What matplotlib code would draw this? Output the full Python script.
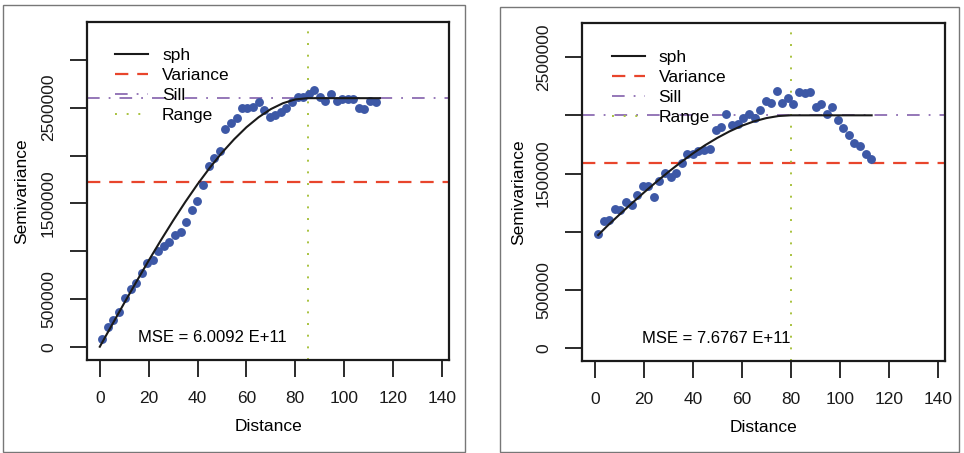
import matplotlib.pyplot as plt
from matplotlib.patches import Rectangle

plt.rcParams['font.family'] = ['Liberation Sans', 'DejaVu Sans']

# empirical semivariogram, left dataset
dist_a = [1.1, 3.3, 5.6, 7.9, 10.4, 12.7, 14.9, 17.2, 19.4, 21.7,
          24.0, 26.2, 28.5, 30.8, 33.1, 35.3, 37.7, 39.9, 42.1, 44.6,
          46.9, 49.1, 51.4, 53.7, 56.0, 58.2, 60.4, 62.7, 65.0, 67.3,
          69.7, 71.8, 74.2, 76.3, 78.7, 80.9, 83.0, 85.5, 87.7, 90.1,
          92.3, 94.6, 96.9, 99.1, 101.4, 103.7, 105.9, 108.2, 110.6, 112.9]
semi_a = [0.077, 0.21, 0.28, 0.367, 0.507, 0.608, 0.664, 0.769, 0.874, 0.902,
          0.997, 1.056, 1.091, 1.171, 1.199, 1.301, 1.434, 1.528, 1.689, 1.888,
          1.976, 2.052, 2.273, 2.336, 2.392, 2.500, 2.497, 2.507, 2.559, 2.476,
          2.402, 2.423, 2.455, 2.493, 2.563, 2.615, 2.612, 2.647, 2.689, 2.612,
          2.570, 2.640, 2.566, 2.594, 2.587, 2.587, 2.500, 2.490, 2.566, 2.559]
# fitted spherical model (sph), left
sph_dist_a = [0, 5, 10, 15, 20, 25, 30, 35, 40, 45, 50, 55, 60, 65, 70, 75, 80, 85, 114.6]
sph_semi_a = [0, 0.229, 0.457, 0.681, 0.901, 1.114, 1.319, 1.515, 1.700, 1.872,
              2.030, 2.171, 2.296, 2.401, 2.486, 2.548, 2.587, 2.600, 2.600]
variance_a = 1.72
sill_a = 2.605
range_a = 85.3
mse_a = 'MSE = 6.0092 E+11'

# empirical semivariogram, right dataset
dist_b = [1.4, 3.8, 6.0, 8.2, 10.5, 12.8, 15.1, 17.4, 19.6, 21.8,
          24.1, 26.4, 28.7, 31.0, 33.3, 35.5, 37.8, 40.1, 42.3, 44.6,
          46.9, 49.3, 51.6, 53.7, 56.1, 58.4, 60.7, 62.9, 65.2, 67.5,
          69.8, 72.0, 74.3, 76.6, 78.9, 81.1, 83.4, 85.7, 88.0, 90.2,
          92.4, 94.7, 97.0, 99.3, 101.4, 103.7, 105.9, 108.2, 110.5, 112.7]
semi_b = [0.979, 1.097, 1.103, 1.194, 1.183, 1.257, 1.226, 1.314, 1.395, 1.389,
          1.303, 1.440, 1.503, 1.469, 1.509, 1.589, 1.664, 1.670, 1.690, 1.704,
          1.715, 1.876, 1.899, 2.007, 1.919, 1.924, 1.979, 2.013, 1.976, 2.048,
          2.122, 2.105, 2.208, 2.105, 2.151, 2.099, 2.196, 2.188, 2.196, 2.070,
          2.096, 2.013, 2.068, 1.962, 1.890, 1.833, 1.761, 1.738, 1.670, 1.629]
sph_dist_b = [1.4, 5, 10, 15, 20, 25, 30, 35, 40, 45, 50, 55, 60, 65, 70, 75, 80, 113]
sph_semi_b = [0.972, 1.048, 1.146, 1.242, 1.336, 1.426, 1.513, 1.595, 1.672, 1.743,
              1.806, 1.862, 1.910, 1.948, 1.976, 1.994, 2.000, 2.000]
variance_b = 1.589
sill_b = 2.0
range_b = 80.1
mse_b = 'MSE = 7.6767 E+11'

SCALE = 1e6
POINT_COLOR = '#3d58a6'
VAR_COLOR = '#e8452c'
SILL_COLOR = '#8c6cb2'
RANGE_COLOR = '#a8c23e'


def draw_panel(ax, dist, semi, sph_d, sph_s, variance, sill, rng, mse, mse_xy,
               ylim, yticks, yticklabels, ylabel_x, leg_xy):
    ax.plot(dist, [v * SCALE for v in semi], 'o', color=POINT_COLOR,
            markersize=6.4, markeredgewidth=0, zorder=3)
    ax.plot(sph_d, [v * SCALE for v in sph_s], color='#1a1a1a', lw=1.5,
            label='sph', zorder=4)
    ax.axhline(variance * SCALE, color=VAR_COLOR, lw=1.6, dashes=(6, 4),
               label='Variance', zorder=2)
    ax.axhline(sill * SCALE, color=SILL_COLOR, lw=1.3, dashes=(7, 5, 1, 5),
               label='Sill', zorder=2)
    ax.axvline(rng, color=RANGE_COLOR, lw=1.4, dashes=(1, 5),
               label='Range', zorder=2)

    ax.text(mse_xy[0], mse_xy[1] * SCALE, mse, fontsize=12, va='center')

    ax.set_xlim(-5.1, 142.9)
    ax.set_ylim(ylim[0] * SCALE, ylim[1] * SCALE)
    ax.set_xticks(range(0, 141, 20))
    ax.set_yticks([t * SCALE for t in yticks])
    ax.set_yticklabels(yticklabels, rotation=90, va='center')
    ax.tick_params(direction='out', length=12.5, width=1.3, labelsize=12.5,
                   colors='#1a1a1a')
    ax.tick_params(axis='x', pad=10)
    ax.tick_params(axis='y', pad=10)
    for s in ax.spines.values():
        s.set_linewidth(1.6)
        s.set_color('#1a1a1a')

    ax.set_xlabel('Distance', fontsize=12.5)
    ax.xaxis.label.set_va('center')
    ax.xaxis.set_label_coords(0.5, -0.198)
    ax.set_ylabel('Semivariance', fontsize=12.5)
    ax.yaxis.label.set_va('center')
    ax.yaxis.set_label_coords(ylabel_x, 0.5)

    ax.legend(loc='upper left', bbox_to_anchor=leg_xy, frameon=False,
              fontsize=12.5, borderpad=0, borderaxespad=0, handlelength=1.9,
              handletextpad=0.8, labelspacing=0.28)


fig = plt.figure(figsize=(9.64, 4.53), dpi=100)
ax1 = fig.add_axes([0.0906, 0.2053, 0.3752, 0.7468])
ax2 = fig.add_axes([0.6040, 0.2031, 0.3762, 0.7455])

draw_panel(ax1, dist_a, semi_a, sph_dist_a, sph_semi_a, variance_a, sill_a,
           range_a, mse_a, (15.8, 0.098), (-0.139, 3.40),
           [0, 0.5, 1.0, 1.5, 2.0, 2.5, 3.0],
           ['0', '500000', '', '1500000', '', '2500000', ''],
           -0.181, (0.077, 0.922))
draw_panel(ax2, dist_b, semi_b, sph_dist_b, sph_semi_b, variance_b, sill_b,
           range_b, mse_b, (19.1, 0.08), (-0.109, 2.79),
           [0, 0.5, 1.0, 1.5, 2.0, 2.5],
           ['0', '500000', '', '1500000', '', '2500000'],
           -0.1745, (0.081, 0.921))

# thin frames round each panel
fig.add_artist(Rectangle((0.003, 0.003), 0.479, 0.986, transform=fig.transFigure,
                         fill=False, edgecolor='#777777', lw=1.0))
fig.add_artist(Rectangle((0.5187, 0.002), 0.476, 0.982, transform=fig.transFigure,
                         fill=False, edgecolor='#777777', lw=1.0))

fig.savefig('out.png', dpi=100)
